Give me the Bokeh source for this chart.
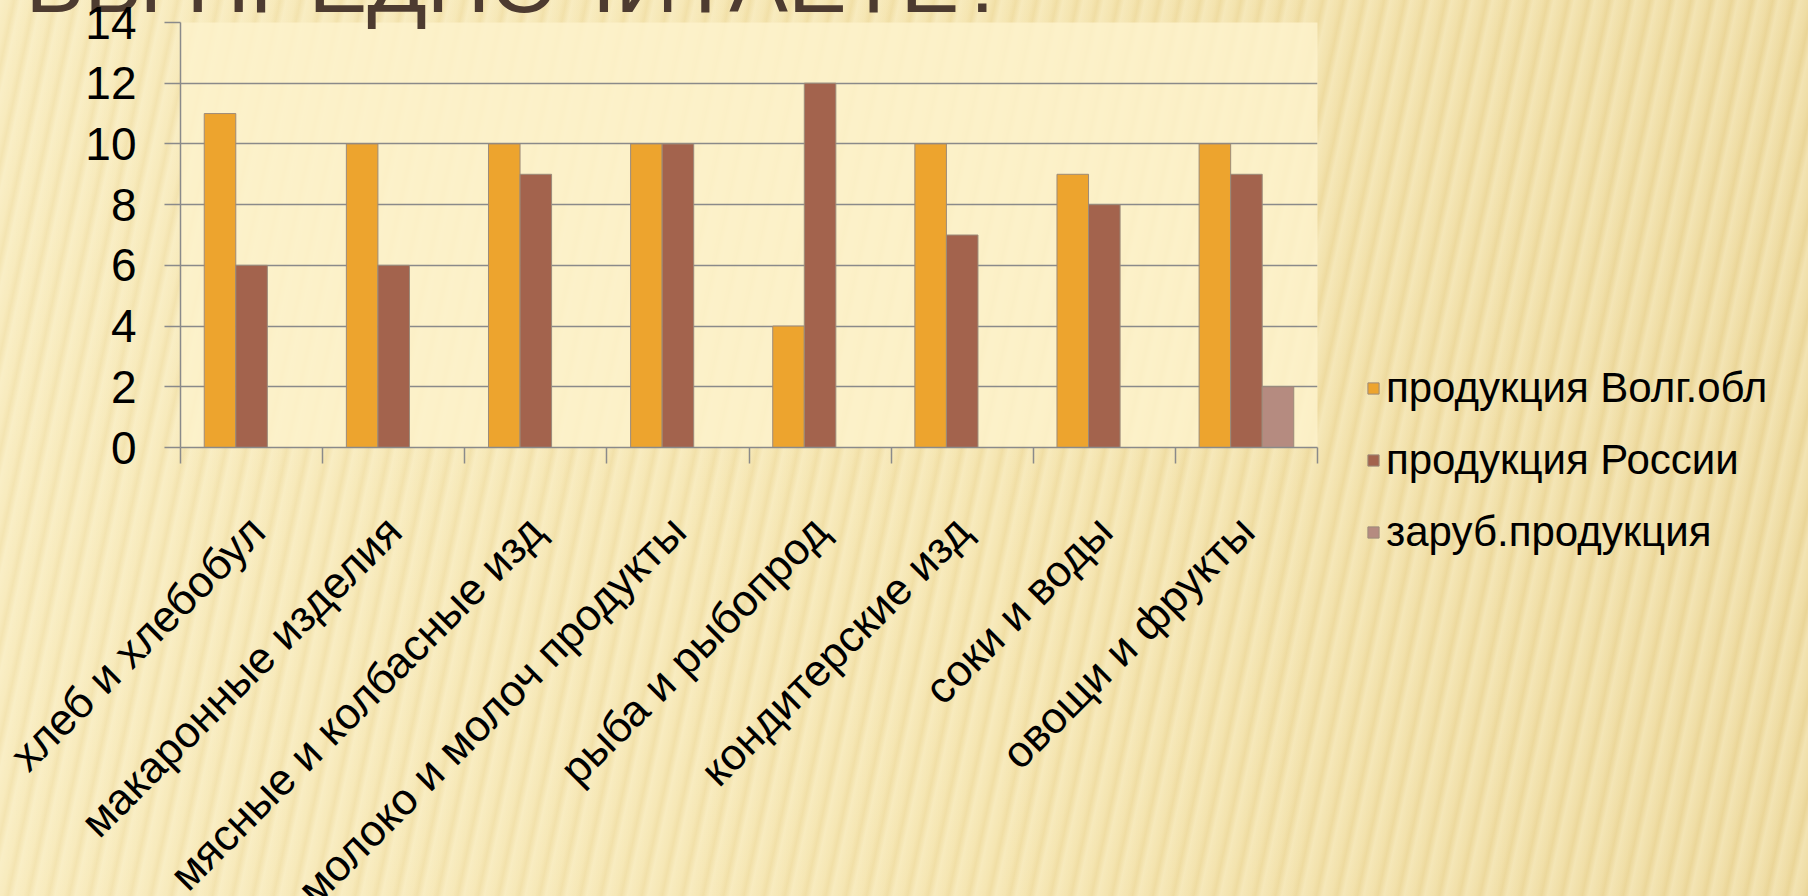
import math
from bokeh.plotting import figure
from bokeh.models import ColumnDataSource, FixedTicker, Label, Legend, LegendItem, Range1d
from bokeh.embed import file_html
from bokeh.resources import INLINE
from bokeh.transform import dodge

# ---- data ----
categories = ["хлеб и хлебобул", "макаронные изделия", "мясные и колбасные изд",
              "молоко и молоч продукты", "рыба и рыбопрод", "кондитерские изд",
              "соки и воды", "овощи и фрукты"]
volg = [11, 10, 10, 10, 4, 10, 9, 10]
russia = [6, 6, 9, 10, 12, 7, 8, 9]
foreign = [0, 0, 0, 0, 0, 0, 0, 2]
series_names = ["продукция Волг.обл", "продукция России", "заруб.продукция"]
y_ticks = [0, 2, 4, 6, 8, 10, 12, 14]
title_text = "ВЫ ПРЕДПОЧИТАЕТЕ?"

colors = ["#EDA42E", "#A3634D", "#B58B80"]
FONT = "Liberation Sans"

n = len(categories)
centers = [i + 0.5 for i in range(n)]
source = ColumnDataSource(dict(x=centers, volg=volg, russia=russia, foreign=foreign))

FW, FH = 1137, 425
p = figure(frame_width=FW, frame_height=FH, output_backend="svg", toolbar_location=None,
           x_range=Range1d(0, n), y_range=Range1d(0, 14),
           min_border_left=180, min_border_top=22, min_border_bottom=449,
           min_border_right=483)
p.border_fill_color = "#F4E2AA"
p.border_fill_alpha = 0
p.background_fill_color = "#FDF2CB"
p.background_fill_alpha = 0.85
p.outline_line_color = None

bw = 0.222
renderers = []
for field, off, col in zip(["volg", "russia", "foreign"], [-bw, 0, bw], colors):
    r = p.vbar(x=dodge("x", off, range=p.x_range), top=field, width=bw, source=source,
               fill_color=col, line_color="#9C8B7A", line_width=1)
    renderers.append(r)

# y axis
ya = p.yaxis[0]
ya.ticker = FixedTicker(ticks=y_ticks)
ya.axis_line_color = "#8A8A8A"
ya.axis_line_width = 1.5
ya.major_tick_line_color = "#8A8A8A"
ya.major_tick_line_width = 1.5
ya.major_tick_out = 16
ya.major_tick_in = 0
ya.minor_tick_line_color = None
ya.major_label_standoff = 28
ya.major_label_text_font = FONT
ya.major_label_text_font_size = "46px"
ya.major_label_text_color = "#000000"

# x axis
xa = p.xaxis[0]
xa.ticker = FixedTicker(ticks=centers, minor_ticks=list(range(n + 1)))
xa.major_label_overrides = {c: name for c, name in zip(centers, categories)}
xa.axis_line_color = "#8A8A8A"
xa.axis_line_width = 1.5
xa.major_tick_line_color = None
xa.major_tick_out = 0
xa.minor_tick_line_color = "#8A8A8A"
xa.minor_tick_line_width = 1.5
xa.minor_tick_out = 16
xa.minor_tick_in = 0
xa.major_label_orientation = math.pi / 4
xa.major_label_standoff = 60
xa.major_label_text_font = FONT
xa.major_label_text_font_size = "44px"
xa.major_label_text_color = "#000000"

p.xgrid.grid_line_color = None
p.ygrid.ticker = FixedTicker(ticks=y_ticks)
p.ygrid.grid_line_color = "#8A8A8A"
p.ygrid.grid_line_width = 1.5

legend = Legend(items=[LegendItem(label=nm, renderers=[r]) for nm, r in zip(series_names, renderers)],
                location=(49, -109))
legend.background_fill_alpha = 0
legend.border_line_color = None
legend.label_text_font = FONT
legend.label_text_font_size = "42px"
legend.label_text_color = "#000000"
legend.glyph_width = 14
legend.glyph_height = 14
legend.label_height = 48
legend.spacing = 24
legend.padding = 0
legend.margin = 0
legend.label_standoff = 6
p.add_layout(legend, "right")

# slide title: partly above the plot frame, so it lives in a side panel (not clipped)
# and is positioned through the plot's own scales
px_to_x = n / FW
px_to_y = 14 / FH
title = Label(x=(25 - 180) * px_to_x, y=14 + 41 * px_to_y,
              text=title_text, text_font=FONT, text_font_size="88px",
              text_color="#4D3B30", text_baseline="alphabetic", level="guide")
p.add_layout(title, "below")

page_css = (
    "html,body{overflow:hidden;background-color:#F2E0A6;"
    "background-image:"
    "repeating-linear-gradient(102deg, rgba(255,251,228,0.30) 0px, rgba(255,251,228,0.10) 9px,"
    " rgba(196,160,70,0.07) 14px, rgba(255,251,228,0.30) 20px),"
    "linear-gradient(90deg, #F7E9B9 0%, #F4E3AC 55%, #EDD99D 100%);}"
)
html = file_html(p, INLINE)
html = html.replace("<head>", "<head><style>" + page_css + "</style>", 1)
open("out.html", "w").write(html)
